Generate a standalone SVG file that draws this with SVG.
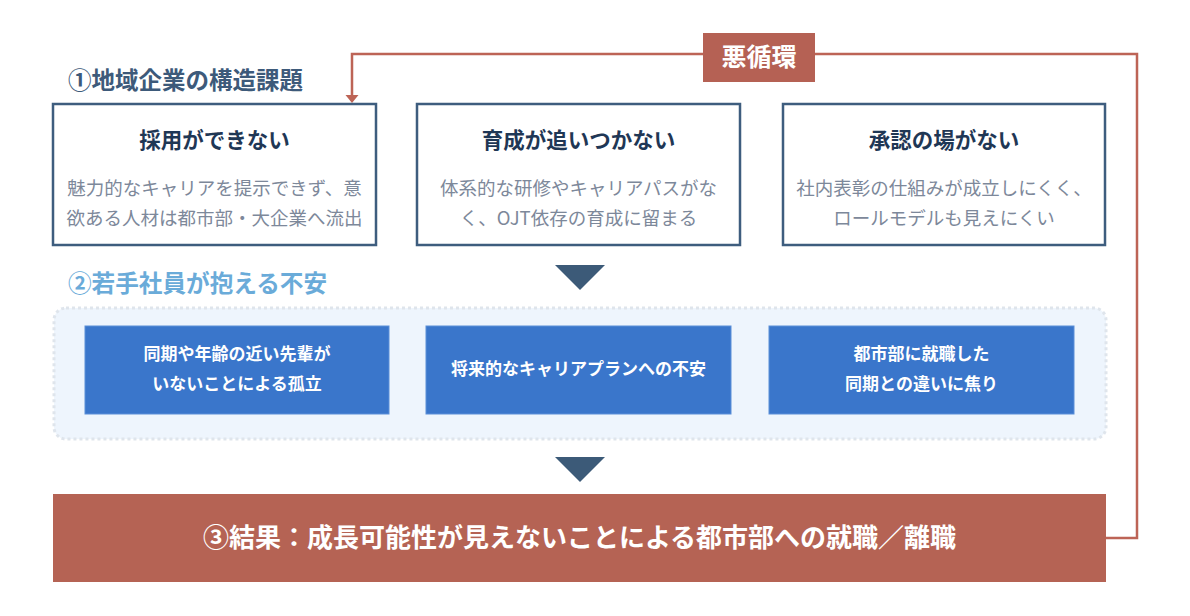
<svg xmlns="http://www.w3.org/2000/svg" width="1190" height="616" viewBox="0 0 1190 616">
<style>
text{font-family:"Noto Sans CJK JP","Noto Sans",sans-serif}
.sec{font-size:23.5px;font-weight:700}
.card{fill:#fff;stroke:#3e5d7e;stroke-width:2.5}
.ct{font-size:21.5px;font-weight:700;fill:#1f3755;text-anchor:middle}
.cd{font-size:18.5px;fill:#7d889a;text-anchor:middle}
.bb{fill:#3a76cb;stroke:#5b8fd8;stroke-width:1}
.bt{font-size:17px;font-weight:700;fill:#fff;text-anchor:middle}
.tri{fill:#3c5a78}
.loop{fill:none;stroke:#bd6456;stroke-width:2.5}
</style>
<rect width="1190" height="616" fill="#fff"/>
<g id="connectors">
<path class="loop" d="M1106,538 H1137 V54 H352 V96"/>
<path d="M345.5,95 L358.5,95 L352,103 Z" fill="#bd6456"/>
<polygon class="tri" points="555,265 605,265 580,290"/>
<polygon class="tri" points="555,457 605,457 580,482"/>
</g>
<g id="loop-label">
<rect x="703" y="33" width="112" height="49" fill="#b56154"/>
<text x="759" y="66" font-size="25" font-weight="700" fill="#fff" text-anchor="middle">悪循環</text>
</g>
<g id="section1">
<text x="68" y="89" class="sec" fill="#3d5a7a" textLength="235" lengthAdjust="spacingAndGlyphs">①地域企業の構造課題</text>
</g>
<g id="card1">
<rect class="card" x="53" y="104" width="323" height="141"/>
<text class="ct" x="214.5" y="148">採用ができない</text>
<text class="cd" x="214.5" y="195">魅力的なキャリアを提示できず、意</text>
<text class="cd" x="214.5" y="225">欲ある人材は都市部・大企業へ流出</text>
</g>
<g id="card2">
<rect class="card" x="417" y="104" width="323" height="141"/>
<text class="ct" x="578.5" y="148">育成が追いつかない</text>
<text class="cd" x="578.5" y="195">体系的な研修やキャリアパスがな</text>
<text class="cd" x="578.5" y="225">く、OJT依存の育成に留まる</text>
</g>
<g id="card3">
<rect class="card" x="783" y="104" width="322" height="141"/>
<text class="ct" x="944" y="148">承認の場がない</text>
<text class="cd" x="944" y="195">社内表彰の仕組みが成立しにくく、</text>
<text class="cd" x="944" y="225">ロールモデルも見えにくい</text>
</g>
<g id="section2">
<text x="68" y="292" class="sec" fill="#6aabd9" textLength="259" lengthAdjust="spacingAndGlyphs">②若手社員が抱える不安</text>
</g>
<g id="container">
<rect x="54" y="308" width="1052" height="131" rx="12" fill="#eef5fd" stroke="#dfe5ec" stroke-width="3" stroke-dasharray="3 3"/>
</g>
<g id="anx1">
<rect class="bb" x="85" y="326" width="304" height="88"/>
<text class="bt" x="237" y="360">同期や年齢の近い先輩が</text>
<text class="bt" x="237" y="390">いないことによる孤立</text>
</g>
<g id="anx2">
<rect class="bb" x="426" y="326" width="305" height="88"/>
<text class="bt" x="578.5" y="375">将来的なキャリアプランへの不安</text>
</g>
<g id="anx3">
<rect class="bb" x="769" y="326" width="305" height="88"/>
<text class="bt" x="921.5" y="360">都市部に就職した</text>
<text class="bt" x="921.5" y="390">同期との違いに焦り</text>
</g>
<g id="result">
<rect x="53" y="494" width="1053" height="88" fill="#b56354"/>
<text x="579.5" y="547" font-size="26" font-weight="700" fill="#fff" text-anchor="middle">③結果：成長可能性が見えないことによる都市部への就職／離職</text>
</g>
</svg>
